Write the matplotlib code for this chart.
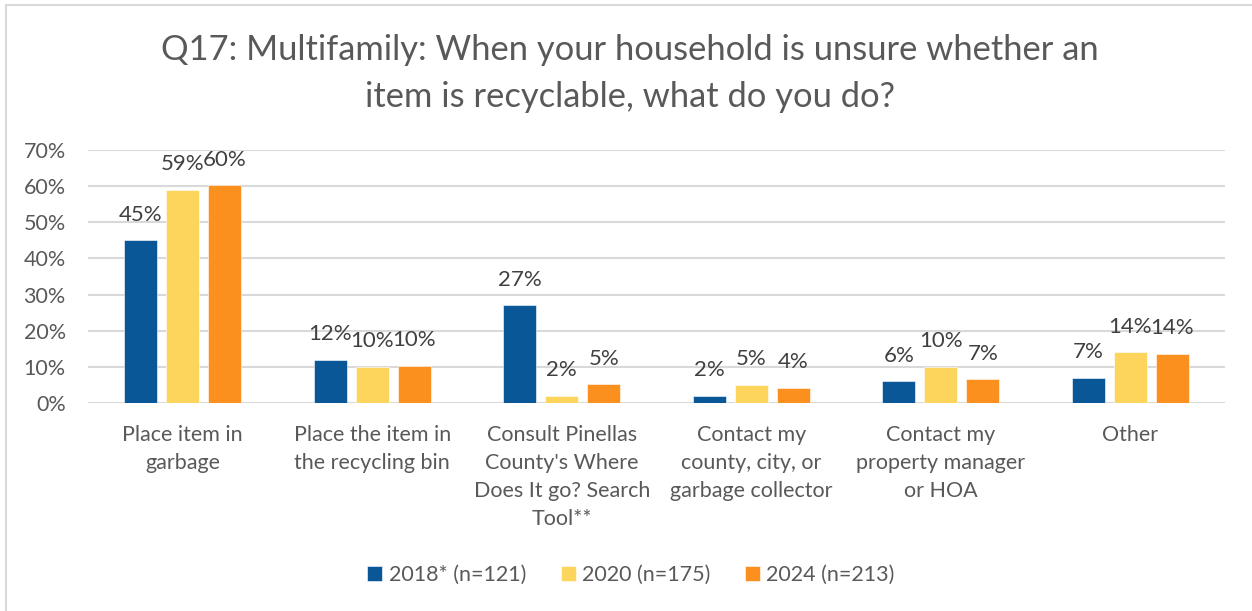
import matplotlib
matplotlib.use('Agg')
import matplotlib.pyplot as plt
import numpy as np
from matplotlib.patches import Rectangle

#### data
categories = ['Place item in\ngarbage',
              'Place the item in\nthe recycling bin',
              "Consult Pinellas\nCounty's Where\nDoes It go? Search\nTool**",
              'Contact my\ncounty, city, or\ngarbage collector',
              'Contact my\nproperty manager\nor HOA',
              'Other']
series_names = ['2018* (n=121)', '2020 (n=175)', '2024 (n=213)']
vals_2018 = [45, 12, 27, 2, 6, 7]
vals_2020 = [59, 10, 2, 5, 10, 14]
vals_2024 = [60.2, 10.3, 5.2, 4.2, 6.6, 13.6]
yticks = [0, 10, 20, 30, 40, 50, 60, 70]

colors = ['#0A5797', '#FDD55C', '#FC901F']
text_grey = '#595959'
label_grey = '#404040'
grid_grey = '#D9D9D9'

plt.rcParams['font.family'] = ['Lato', 'DejaVu Sans']

#### plot
fig = plt.figure(figsize=(12.52, 6.11), dpi=100)
ax = fig.add_axes([0.0703, 0.3404, 0.9081, 0.4141])

# chart border (Excel style frame)
fig.patches.append(Rectangle((6 / 1252, -0.1), 1.2, 1 - 5 / 611 + 0.1,
                             transform=fig.transFigure, fill=False,
                             edgecolor=grid_grey, linewidth=1.5))

x = np.arange(len(categories))
width = 0.174
step = 0.2216
all_vals = [vals_2018, vals_2020, vals_2024]
for i, (vals, name, c) in enumerate(zip(all_vals, series_names, colors)):
    pos = x + (i - 1) * step
    bars = ax.bar(pos, vals, width, color=c, label=name, zorder=3,
                  edgecolor='white', linewidth=0.4)
    for b, v in zip(bars, vals):
        ax.annotate(f'{round(v):.0f}%', (b.get_x() + b.get_width() / 2, v),
                    xytext=(0, 14), textcoords='offset points',
                    ha='center', va='baseline', fontsize=16, color=label_grey)

# axes formatting
ax.set_xlim(-0.5, len(categories) - 0.5)
ax.set_ylim(0, 70)
ax.set_yticks(yticks)
ax.set_yticklabels([f'{t}%' for t in yticks])
for t in yticks:
    ax.axhline(t, color=grid_grey, linewidth=1.5, zorder=1)
for spine in ax.spines.values():
    spine.set_visible(False)
ax.tick_params(axis='both', length=0, labelsize=15.5, labelcolor=text_grey)
ax.tick_params(axis='y', pad=16)
ax.tick_params(axis='x', pad=16)
ax.set_xticks(x)
ax.set_xticklabels(categories, linespacing=1.5)

# title
fig.text(0.503, 1 - 73.5 / 611, 'Q17: Multifamily: When your household is unsure whether an\nitem is recyclable, what do you do?',
         ha='center', va='center', fontsize=24.8, color=text_grey, linespacing=1.6)

# legend
ax.legend(loc='center', bbox_to_anchor=(0.504, 1 - 575 / 611), bbox_transform=fig.transFigure,
          ncol=3, frameon=False, fontsize=15.5, labelcolor=text_grey,
          handlelength=0.7, handleheight=0.7, handletextpad=0.3, columnspacing=1.6)

fig.savefig('out.png', dpi=100)
